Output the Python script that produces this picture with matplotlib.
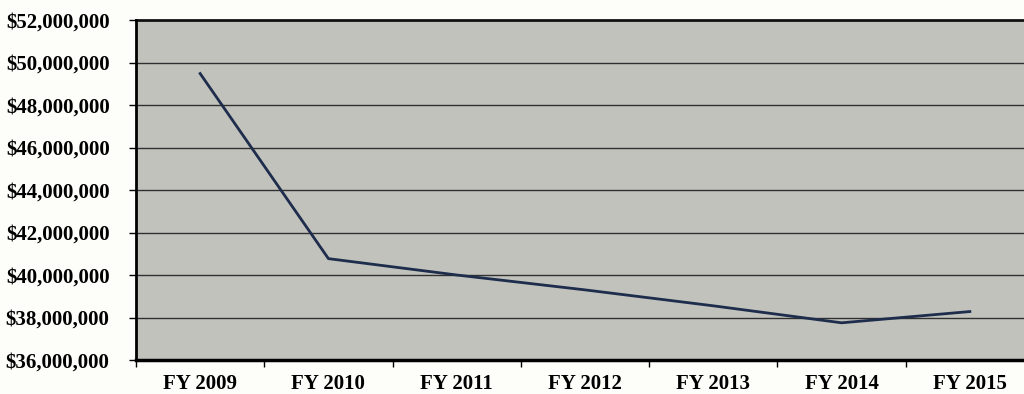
import matplotlib.pyplot as plt
import matplotlib.ticker as mticker

years = ['FY 2009', 'FY 2010', 'FY 2011', 'FY 2012', 'FY 2013', 'FY 2014', 'FY 2015']
values = [49480000, 40770000, 40000000, 39300000, 38550000, 37750000, 38280000]

plt.rcParams['font.family'] = ['Liberation Serif', 'DejaVu Serif']

fig = plt.figure(figsize=(10.24, 3.94), dpi=100, facecolor='#fdfdf9')
ax = fig.add_axes([136/1024, 34/394, 898/1024, 340/394])
ax.set_facecolor('#c2c2bd')

x = range(len(years))
ax.plot(x, values, color='#1e2d4c', lw=2, zorder=3)

ax.set_xlim(-0.5, len(years) - 0.5)
ax.set_ylim(36000000, 52000000)
ax.set_yticks(range(36000000, 52000001, 2000000))
ax.yaxis.set_major_formatter(mticker.FuncFormatter(lambda v, p: '${:,.0f}'.format(v)))
ax.set_xticks(list(x))
ax.set_xticklabels(years)
ax.set_xticks([i + 0.5 for i in range(-1, len(years))], minor=True)
ax.tick_params(axis='x', which='major', length=0, pad=10)
ax.tick_params(axis='x', which='minor', length=5, width=1, direction='out')
ax.tick_params(axis='y', length=5, width=1, pad=14)

for lab in ax.get_xticklabels() + ax.get_yticklabels():
    lab.set_fontsize(15)
    lab.set_fontweight('bold')

ax.grid(axis='y', color='#303030', lw=1)
ax.set_axisbelow(True)
for s in ['top', 'right']:
    ax.spines[s].set_visible(False)
ax.spines['left'].set_linewidth(2)
ax.spines['bottom'].set_linewidth(2.5)
ax.axhline(52000000, color='#111111', lw=2, clip_on=False)

fig.savefig('out.png', dpi=100, facecolor=fig.get_facecolor())
